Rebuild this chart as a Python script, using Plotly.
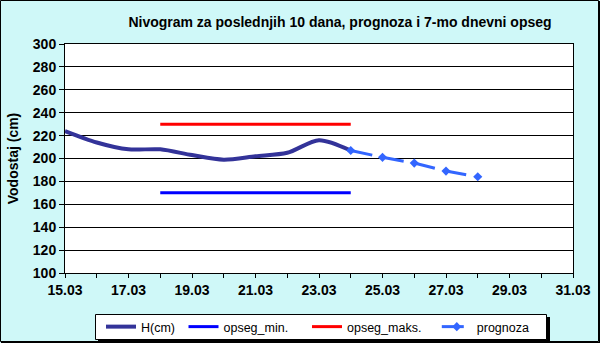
import plotly.graph_objects as go

# Data
h_dates = ["2024-03-15", "2024-03-16", "2024-03-17", "2024-03-18", "2024-03-19",
           "2024-03-20", "2024-03-21", "2024-03-22", "2024-03-23", "2024-03-24"]
h_values = [224, 214, 208, 208, 203, 199, 202, 205, 216, 207]

range_dates = ["2024-03-18", "2024-03-24"]
opseg_min = [170, 170]
opseg_maks = [230, 230]

prog_dates = ["2024-03-24", "2024-03-25", "2024-03-26", "2024-03-27", "2024-03-28"]
prog_values = [207, 201, 196, 189, 184]

tick_vals = ["2024-03-15", "2024-03-17", "2024-03-19", "2024-03-21", "2024-03-23",
             "2024-03-25", "2024-03-27", "2024-03-29", "2024-03-31"]
tick_text = ["15.03", "17.03", "19.03", "21.03", "23.03", "25.03", "27.03", "29.03", "31.03"]

W, H = 600, 343
ML, MR, MT, MB = 65, 27, 44, 70
PW, PH = W - ML - MR, H - MT - MB
NB = "\u00a0"


def px_x(p):
    return (p - ML) / PW


def px_y(p):
    return (H - MB - p) / PH


FAM = "Arial, Liberation Sans, sans-serif"

fig = go.Figure()
fig.add_trace(go.Scatter(x=h_dates, y=h_values, name="H(cm)" + NB * 1, mode="lines",
                         line=dict(color="#333399", width=4, shape="spline", smoothing=0.8)))
fig.add_trace(go.Scatter(x=range_dates, y=opseg_min, name="opseg_min." + NB * 4, mode="lines",
                         line=dict(color="#0000FF", width=3)))
fig.add_trace(go.Scatter(x=range_dates, y=opseg_maks, name="opseg_maks." + NB * 3, mode="lines",
                         line=dict(color="#FF0000", width=3)))
fig.add_trace(go.Scatter(x=prog_dates, y=prog_values, name="prognoza", mode="lines+markers",
                         line=dict(color="#3366FF", width=3, dash="22px,10px"),
                         marker=dict(symbol="diamond", size=7, color="#3366FF")))

fig.update_layout(
    width=W, height=H,
    margin=dict(l=ML, r=MR, t=MT, b=MB, autoexpand=False),
    paper_bgcolor="#CFF8F8",
    plot_bgcolor="white",
    showlegend=True,
    font=dict(family=FAM, size=12, color="black"),
    title=dict(text="<b>Nivogram za poslednjih 10 dana, prognoza i 7-mo dnevni opseg</b>",
               x=px_x(340), xref="paper", xanchor="center",
               y=1 - 22 / H, yref="container", yanchor="middle",
               font=dict(family=FAM, size=14, color="black")),
    legend=dict(orientation="h", x=px_x(101), xanchor="left", y=px_y(327), yanchor="middle",
                bgcolor="rgba(0,0,0,0)", borderwidth=0,
                font=dict(family=FAM, size=12.5, color="black"),
                itemwidth=30, tracegroupgap=0),
    xaxis=dict(type="date", range=["2024-03-15", "2024-03-31"],
               tickvals=tick_vals, ticktext=tick_text,
               ticks="outside", ticklen=4, tickcolor="black",
               minor=dict(dtick=86400000, ticks="outside", ticklen=4, tickcolor="black"),
               showgrid=False, showline=True, linecolor="black", linewidth=1, mirror=True,
               tickfont=dict(family=FAM, size=14, color="black", weight="bold"),
               zeroline=False),
    yaxis=dict(range=[100, 300], dtick=20, ticks="outside", ticklen=5, tickcolor="black",
               showgrid=True, gridcolor="black", gridwidth=1,
               showline=True, linecolor="black", linewidth=1, mirror=True,
               tickfont=dict(family=FAM, size=14, color="black", weight="bold"),
               title=dict(text="<b>Vodostaj (cm)</b>", standoff=10,
                          font=dict(family=FAM, size=14, color="black")),
               zeroline=False),
)

# outer border
fig.add_shape(type="rect", xref="paper", yref="paper",
              x0=px_x(0.5), x1=px_x(598.5), y0=px_y(341.5), y1=px_y(0.5),
              line=dict(color="black", width=1), layer="below")
fig.add_shape(type="line", xref="paper", yref="paper",
              x0=px_x(599.5), x1=px_x(599.5), y0=px_y(342.5), y1=px_y(1),
              line=dict(color="black", width=1), layer="below")
fig.add_shape(type="line", xref="paper", yref="paper",
              x0=px_x(1), x1=px_x(600), y0=px_y(342.5), y1=px_y(342.5),
              line=dict(color="black", width=1), layer="below")
# legend box + shadow
fig.add_shape(type="rect", xref="paper", yref="paper",
              x0=px_x(98), x1=px_x(550), y0=px_y(342), y1=px_y(317),
              fillcolor="black", line=dict(width=0), layer="below")
fig.add_shape(type="rect", xref="paper", yref="paper",
              x0=px_x(95.5), x1=px_x(546.5), y0=px_y(339.5), y1=px_y(314.5),
              fillcolor="white", line=dict(color="black", width=1), layer="below")

fig.write_html("out.html")
